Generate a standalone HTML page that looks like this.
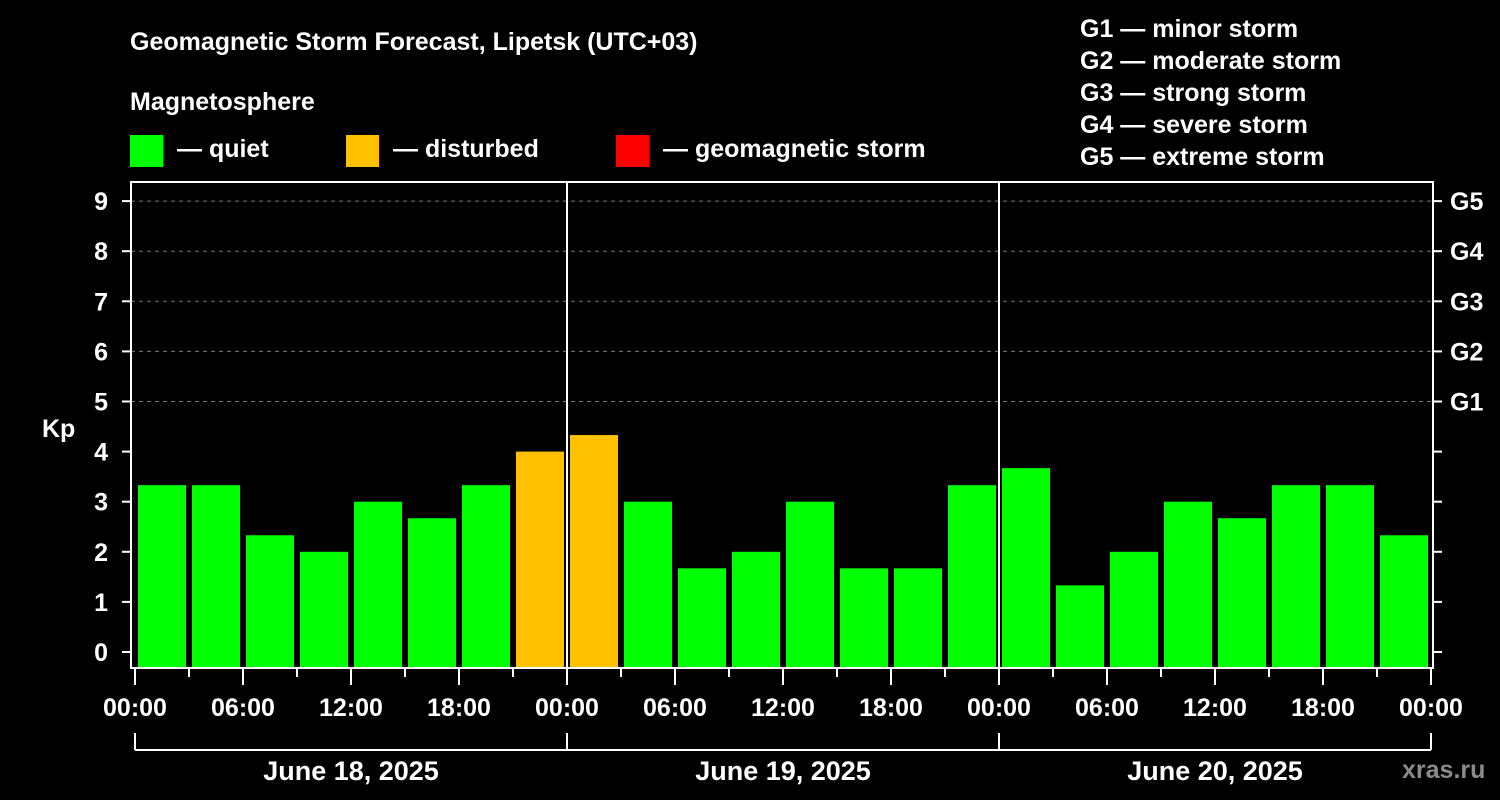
<!DOCTYPE html>
<html><head><meta charset="utf-8">
<style>
html,body{margin:0;padding:0;background:#000;}
svg{display:block;}
text{font-family:"Liberation Sans",Arial,sans-serif;font-weight:bold;fill:#fff;}
</style></head>
<body>
<svg id="chart" width="1500" height="800" viewBox="0 0 1500 800">
<rect x="0" y="0" width="1500" height="800" fill="#000"/>
<text x="130" y="50" font-size="25">Geomagnetic Storm Forecast, Lipetsk (UTC+03)</text>
<text x="130" y="110" font-size="25">Magnetosphere</text>
<g>
<rect x="130" y="135" width="33" height="32" fill="#00ff00"/>
<text x="177" y="157" font-size="25">— quiet</text></g>
<g>
<rect x="346" y="135" width="33" height="32" fill="#ffc000"/>
<text x="393" y="157" font-size="25">— disturbed</text></g>
<g>
<rect x="616" y="135" width="33" height="32" fill="#ff0000"/>
<text x="663" y="157" font-size="25">— geomagnetic storm</text></g>
<g>
<text x="1080" y="37" font-size="25">G1 — minor storm</text>
<text x="1080" y="69" font-size="25">G2 — moderate storm</text>
<text x="1080" y="101" font-size="25">G3 — strong storm</text>
<text x="1080" y="133" font-size="25">G4 — severe storm</text>
<text x="1080" y="165" font-size="25">G5 — extreme storm</text>
</g>
<text x="42" y="437" font-size="25">Kp</text>
<text x="1402" y="778" font-size="25" fill="#888" style="fill:#8a8a8a">xras.ru</text>
<g id="grid"></g>
<g id="bars"></g>
<g id="axes"></g>
</svg>
<script>
const dayLabels = ["June 18, 2025", "June 19, 2025", "June 20, 2025"];
const timeLabels = ["00:00", "06:00", "12:00", "18:00"];
const kpValues = [3.33, 3.33, 2.33, 2, 3, 2.67, 3.33, 4,
                  4.33, 3, 1.67, 2, 3, 1.67, 1.67, 3.33,
                  3.67, 1.33, 2, 3, 2.67, 3.33, 3.33, 2.33];
const kpTicks = [0, 1, 2, 3, 4, 5, 6, 7, 8, 9];
const gLabels = ["G1", "G2", "G3", "G4", "G5"];
const gLevels = [5, 6, 7, 8, 9];

const NS = "http://www.w3.org/2000/svg";
const X0 = 135, dayW = 432, hoursPerDay = 24;
const plotL = 131, plotR = 1433, plotT = 182, plotB = 668;
function xScale(h){ return X0 + h * dayW / hoursPerDay; }
function yScale(v){ return 652 - v * 50.1; }
function mk(tag, attrs, parent){ const e = document.createElementNS(NS, tag); for (const k in attrs) e.setAttribute(k, attrs[k]); parent.appendChild(e); return e; }

const grid = document.getElementById("grid"), bars = document.getElementById("bars"), axes = document.getElementById("axes");

gLevels.forEach(v => {
  const l = mk("line", {x1: plotL, x2: plotR, y1: yScale(v), y2: yScale(v), stroke: "#777", "stroke-width": 1, "stroke-dasharray": "4,4"}, grid);
  
  
});

const nDays = dayLabels.length;
const slot = 3;
kpValues.forEach((v, i) => {
  const x1 = xScale(i * slot) + 3, x2 = xScale((i + 1) * slot) - 3;
  const color = v >= 5 ? "#ff0000" : (v >= 4 ? "#ffc000" : "#00ff00");
  const r = mk("rect", {x: x1, y: yScale(v), width: x2 - x1, height: plotB - yScale(v), fill: color}, bars);
  
  
});

// frame
const fr = mk("rect", {x: plotL, y: plotT, width: plotR - plotL, height: plotB - plotT, fill: "none", stroke: "#fff", "stroke-width": 2}, axes);



// day separators
for (let d = 1; d < nDays; d++) {
  const x = xScale(d * hoursPerDay);
  const l = mk("line", {x1: x, x2: x, y1: plotT, y2: plotB, stroke: "#fff", "stroke-width": 2}, axes);
  
  
}

// y ticks
kpTicks.forEach(v => {
  const y = yScale(v);
  const t = mk("line", {x1: 122, x2: plotL, y1: y, y2: y, stroke: "#fff", "stroke-width": 2}, axes);
  
  
  const t2 = mk("line", {x1: plotR, x2: 1442, y1: y, y2: y, stroke: "#fff", "stroke-width": 2}, axes);
  
  
  const tx = mk("text", {x: 108, y: y + 9, "font-size": 25, "text-anchor": "end"}, axes);
  tx.textContent = v;
  
  
});
gLevels.forEach((v, i) => {
  const tx = mk("text", {x: 1450, y: yScale(v) + 9, "font-size": 25}, axes);
  tx.textContent = gLabels[i];
  
  
});

// x ticks
for (let h = 0; h <= nDays * hoursPerDay; h += 3) {
  const x = xScale(h), major = h % 6 === 0;
  const t = mk("line", {x1: x, x2: x, y1: plotB, y2: major ? 685 : 677, stroke: "#fff", "stroke-width": 2}, axes);
  
  
  if (major) {
    const tx = mk("text", {x: x, y: 716, "font-size": 25, "text-anchor": "middle"}, axes);
    tx.textContent = timeLabels[(h % hoursPerDay) / 6];
    
    
  }
}

// day brackets
const br = mk("line", {x1: xScale(0), x2: xScale(nDays * hoursPerDay), y1: 750, y2: 750, stroke: "#fff", "stroke-width": 2}, axes);


for (let d = 0; d <= nDays; d++) {
  const x = xScale(d * hoursPerDay);
  const l = mk("line", {x1: x, x2: x, y1: 733, y2: 750, stroke: "#fff", "stroke-width": 2}, axes);
  
  
}
dayLabels.forEach((lab, d) => {
  const tx = mk("text", {x: xScale(d * hoursPerDay + 12), y: 780, "font-size": 27, "text-anchor": "middle"}, axes);
  tx.textContent = lab;
  
  
});
</script>
</body></html>
